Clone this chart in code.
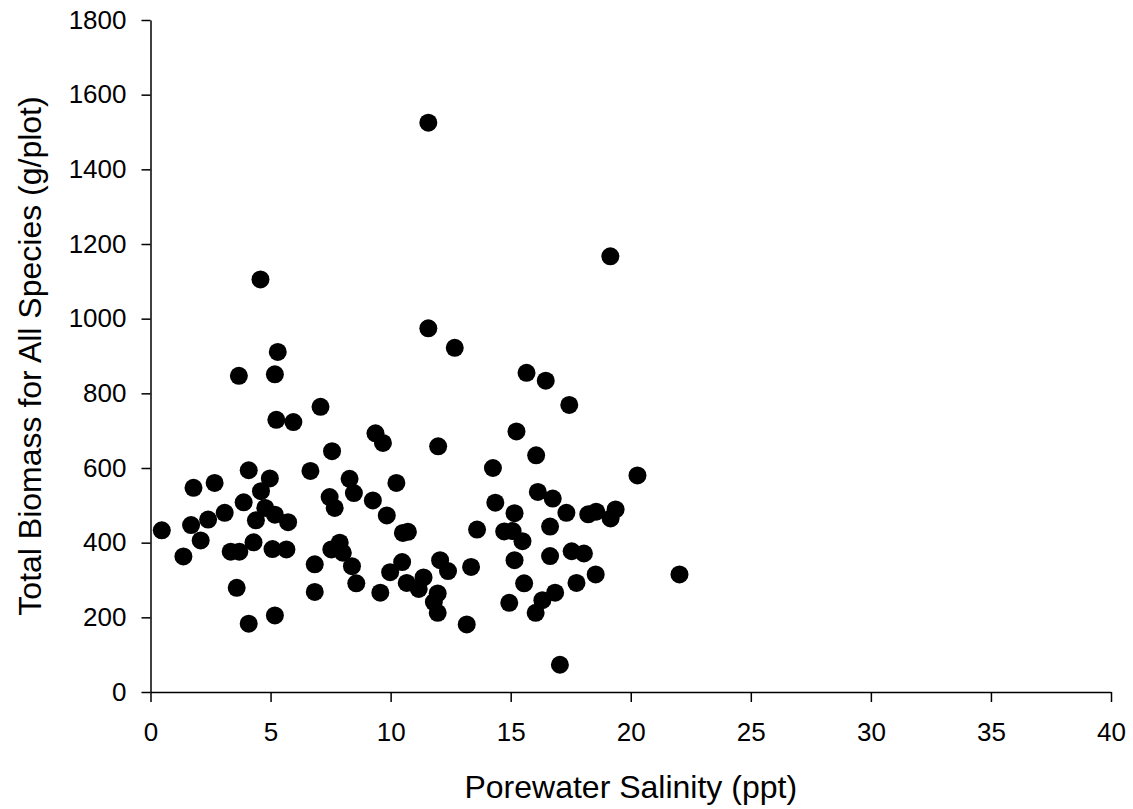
<!DOCTYPE html>
<html>
<head>
<meta charset="utf-8">
<script src="https://cdn.jsdelivr.net/npm/d3@7"></script>
<style>
  body { margin: 0; background: #fff; }
  svg { display: block; font-family: "Liberation Sans", Arial, sans-serif; }
</style>
</head>
<body>
<div class="container"></div>
<script>
// porewater salinity (ppt) and total biomass (g/plot)
const salinity = [
  0.47, 1.37, 1.79, 1.69, 2.09, 2.40, 2.67, 3.09, 3.34, 3.70,
  3.59, 4.09, 3.88, 4.09, 4.39, 4.29, 4.60, 4.78, 4.97, 5.18,
  5.73, 5.08, 5.66, 5.18, 6.66, 6.84, 6.84, 4.58, 5.30, 3.68,
  5.18, 7.08, 5.24, 5.95, 7.56, 9.68, 9.37, 11.98, 8.29, 10.24,
  7.46, 8.47, 7.67, 9.26, 9.84, 10.51, 10.72, 13.6, 7.88, 7.53,
  8.01, 8.39, 8.57, 9.57, 10.48, 9.98, 10.67, 11.37, 11.17, 12.06,
  12.39, 13.35, 11.96, 11.80, 11.96, 13.17, 11.57, 12.67, 11.57, 19.15,
  15.24, 16.06, 14.26, 20.28, 16.13, 16.75, 14.36, 15.16, 17.32, 18.23,
  18.56, 19.37, 19.16, 14.73, 15.08, 15.49, 16.64, 15.16, 16.64, 17.54,
  18.05, 15.56, 17.74, 18.54, 16.85, 16.32, 14.94, 16.04, 17.05, 22.03,
  15.66, 16.46, 17.44
];
const biomass = [
  433, 363, 547, 447, 406, 462, 560, 480, 376, 376,
  279, 183, 508, 594, 460, 401, 538, 493, 572, 475,
  455, 383, 382, 205, 592, 342, 268, 1105, 911, 847,
  851, 764, 729, 723, 645, 667, 693, 658, 571, 560,
  522, 533, 493, 513, 473, 426, 429, 435, 400, 382,
  373, 337, 291, 266, 348, 321, 292, 307, 276, 353,
  324, 335, 264, 241, 212, 181, 974, 922, 1525, 1167,
  698, 634, 600, 580, 536, 518, 507, 479, 480, 476,
  483, 489, 465, 430, 431, 404, 443, 353, 364, 377,
  371, 291, 292, 315, 266, 246, 239, 212, 73, 315,
  855, 834, 769
];

const xTicks = [0, 5, 10, 15, 20, 25, 30, 35, 40];
const yTicks = [0, 200, 400, 600, 800, 1000, 1200, 1400, 1600, 1800];

const xTitle = 'Porewater Salinity (ppt)';
const yTitle = 'Total Biomass for All Species (g/plot)';

const width = 1133;
const height = 809;
const margin = { top: 20, right: 22, bottom: 117, left: 150.5 };

const points = salinity.map((s, i) => ({ x: s, y: biomass[i] }));

const svg = d3
  .select('.container')
  .append('svg')
  .attr('width', width)
  .attr('height', height);

const xScale = d3
  .scaleLinear()
  .domain([0, 40])
  .range([margin.left, width - margin.right]);

const yScale = d3
  .scaleLinear()
  .domain([0, 1800])
  .range([height - margin.bottom, margin.top]);

const xAxis = d3
  .axisBottom(xScale)
  .tickValues(xTicks)
  .tickFormat(d3.format('d'))
  .tickSize(10)
  .tickSizeOuter(0)
  .tickPadding(21);

const yAxis = d3
  .axisLeft(yScale)
  .tickValues(yTicks)
  .tickFormat(d3.format('d'))
  .tickSize(9)
  .tickSizeOuter(0)
  .tickPadding(15);

const gx = svg
  .append('g')
  .attr('id', 'x-axis')
  .attr('transform', `translate(0,${height - margin.bottom})`)
  .call(xAxis);

const gy = svg
  .append('g')
  .attr('id', 'y-axis')
  .attr('transform', `translate(${margin.left},0)`)
  .call(yAxis);

[gx, gy].forEach((g) => {
  g.selectAll('path, line').attr('stroke', '#000').attr('stroke-width', 1.5);
  g.selectAll('text')
    .attr('fill', '#000')
    .style('font-size', '26px')
    .style('font-family', '"Liberation Sans", Arial, sans-serif');
});

svg
  .append('text')
  .attr('x', (margin.left + width - margin.right) / 2)
  .attr('y', 798)
  .attr('text-anchor', 'middle')
  .style('font-size', '32px')
  .text(xTitle);

svg
  .append('text')
  .attr('transform', 'rotate(-90)')
  .attr('x', -(margin.top + height - margin.bottom) / 2)
  .attr('y', 41)
  .attr('text-anchor', 'middle')
  .style('font-size', '32px')
  .text(yTitle);

svg
  .append('g')
  .selectAll('circle')
  .data(points)
  .enter()
  .append('circle')
  .attr('class', 'dot')
  .attr('cx', (d) => xScale(d.x))
  .attr('cy', (d) => yScale(d.y))
  .attr('r', 9)
  .attr('fill', '#000');
</script>
</body>
</html>
